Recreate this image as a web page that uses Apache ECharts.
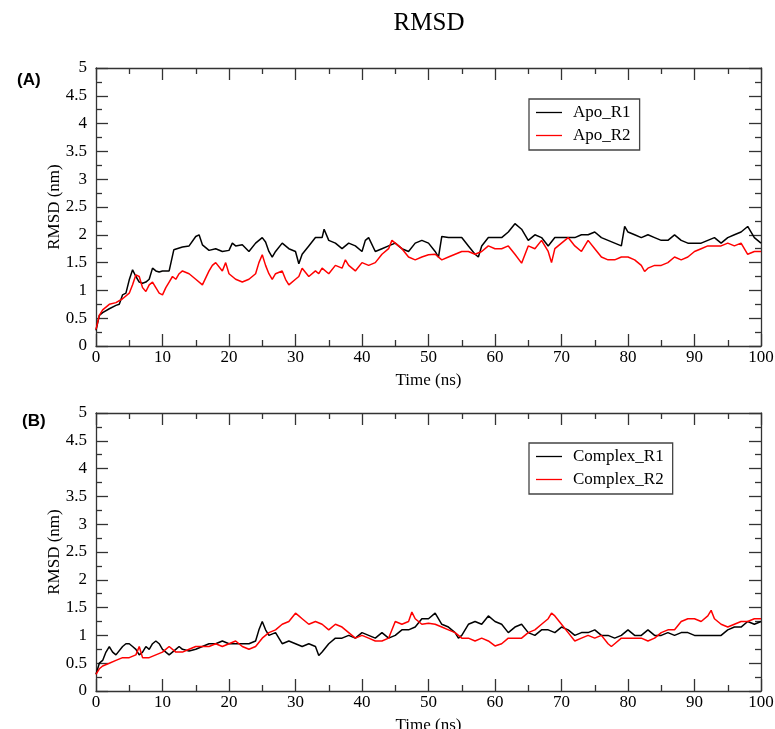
<!DOCTYPE html>
<html><head><meta charset="utf-8">
<script src="https://cdn.jsdelivr.net/npm/echarts@6/dist/echarts.min.js"></script>
<style>html,body{margin:0;padding:0;background:#fff}#c{width:775px;height:729px}</style>
</head><body><div id="c"></div>
<script>
const titleText = 'RMSD';
const panelLabels = ['(A)', '(B)'];
const xTicks = [0,10,20,30,40,50,60,70,80,90,100];
const yTicks = [0,0.5,1,1.5,2,2.5,3,3.5,4,4.5,5];
const seriesNames = ['Apo_R1','Apo_R2','Complex_R1','Complex_R2'];

const apoR1 = [[0,0.28],[0.5,0.55],[1,0.6],[2,0.67],[3,0.73],[3.5,0.75],[4,0.92],[4.5,0.95],[5,1.19],[5.5,1.37],[6,1.25],[6.5,1.15],[7,1.13],[7.5,1.15],[8,1.2],[8.5,1.4],[9,1.35],[9.5,1.33],[10,1.35],[11,1.35],[11.3,1.38],[11.7,1.73],[12,1.7],[13,1.78],[14,1.8],[15,1.97],[15.5,2.0],[16,1.82],[17,1.72],[18,1.75],[19,1.7],[20,1.72],[20.5,1.85],[21,1.8],[22,1.82],[23,1.7],[24,1.85],[25,1.95],[25.5,1.87],[26,1.7],[26.5,1.6],[27,1.7],[28,1.85],[29,1.75],[30,1.7],[30.5,1.48],[31,1.65],[32,1.8],[33,1.95],[34,1.95],[34.3,2.1],[35,1.9],[36,1.85],[37,1.75],[38,1.85],[39,1.8],[40,1.7],[40.5,1.9],[41,1.95],[42,1.7],[43,1.75],[44,1.8],[45,1.85],[46,1.75],[47,1.7],[48,1.85],[49,1.9],[50,1.85],[51,1.7],[51.5,1.6],[52,1.97],[53,1.95],[54,1.95],[55,1.95],[56,1.8],[57,1.65],[57.5,1.6],[58,1.8],[59,1.95],[60,1.95],[61,1.95],[62,2.05],[63,2.2],[64,2.1],[65,1.9],[66,2.0],[67,1.95],[68,1.8],[69,1.95],[70,1.95],[71,1.95],[72,1.95],[73,2.0],[74,2.0],[75,2.05],[76,1.95],[77,1.9],[78,1.85],[79,1.8],[79.5,2.15],[80,2.05],[81,2.0],[82,1.95],[83,2.0],[84,1.95],[85,1.9],[86,1.9],[87,2.0],[88,1.9],[89,1.85],[90,1.85],[91,1.85],[92,1.9],[93,1.95],[94,1.85],[95,1.95],[96,2.0],[97,2.05],[98,2.15],[99,1.95],[100,1.85]];

const apoR2 = [[0,0.3],[0.5,0.55],[1,0.65],[2,0.75],[3,0.78],[4,0.85],[5,0.95],[5.5,1.1],[6,1.28],[6.5,1.25],[7,1.05],[7.5,0.98],[8,1.1],[8.5,1.15],[9,1.05],[9.5,0.95],[10,0.92],[10.5,1.05],[11,1.15],[11.5,1.25],[12,1.2],[12.5,1.3],[13,1.35],[14,1.3],[15,1.2],[16,1.1],[17,1.35],[17.5,1.45],[18,1.5],[19,1.35],[19.5,1.5],[20,1.3],[21,1.2],[22,1.15],[23,1.2],[24,1.3],[24.5,1.5],[25,1.64],[25.5,1.45],[26,1.3],[26.5,1.2],[27,1.3],[28,1.35],[28.5,1.2],[29,1.1],[30,1.2],[30.5,1.25],[31,1.4],[32,1.25],[33,1.35],[33.5,1.3],[34,1.4],[35,1.3],[36,1.45],[37,1.4],[37.5,1.55],[38,1.45],[39,1.35],[40,1.5],[41,1.45],[42,1.5],[43,1.65],[44,1.75],[44.5,1.9],[45,1.85],[46,1.75],[47,1.6],[48,1.55],[49,1.6],[50,1.64],[51,1.65],[52,1.55],[53,1.6],[54,1.65],[55,1.7],[56,1.7],[57,1.65],[58,1.7],[59,1.8],[60,1.75],[61,1.75],[62,1.8],[63,1.65],[64,1.49],[65,1.8],[66,1.75],[67,1.9],[68,1.7],[68.5,1.5],[69,1.75],[70,1.85],[71,1.95],[72,1.8],[73,1.7],[74,1.9],[75,1.75],[76,1.6],[77,1.55],[78,1.55],[79,1.6],[80,1.6],[81,1.55],[82,1.45],[82.5,1.34],[83,1.4],[84,1.45],[85,1.45],[86,1.5],[87,1.6],[88,1.55],[89,1.6],[90,1.7],[91,1.75],[92,1.8],[93,1.8],[94,1.8],[95,1.85],[96,1.8],[97,1.85],[98,1.65],[99,1.7],[100,1.7]];

const complexR1 = [[0,0.3],[0.5,0.5],[1,0.55],[1.5,0.7],[2,0.8],[2.5,0.7],[3,0.65],[4,0.8],[4.5,0.85],[5,0.85],[5.5,0.8],[6,0.75],[6.5,0.65],[7,0.7],[7.5,0.8],[8,0.75],[8.5,0.85],[9,0.9],[9.5,0.85],[10,0.75],[11,0.65],[12,0.75],[12.5,0.8],[13,0.75],[14,0.72],[15,0.75],[16,0.8],[17,0.85],[18,0.85],[19,0.9],[20,0.85],[21,0.85],[22,0.85],[23,0.85],[24,0.9],[24.5,1.1],[25,1.25],[25.5,1.1],[26,1.0],[27,1.05],[28,0.85],[29,0.9],[30,0.85],[31,0.8],[32,0.85],[33,0.8],[33.5,0.64],[34,0.7],[35,0.85],[36,0.95],[37,0.95],[38,1.0],[39,0.95],[40,1.05],[41,1.0],[42,0.95],[43,1.05],[44,0.95],[45,1.0],[46,1.1],[47,1.1],[48,1.15],[49,1.3],[50,1.3],[51,1.4],[52,1.2],[53,1.15],[54,1.05],[54.5,0.95],[55,1.0],[56,1.2],[57,1.25],[58,1.2],[59,1.35],[60,1.25],[61,1.2],[62,1.05],[63,1.15],[64,1.2],[65,1.05],[66,1.0],[67,1.1],[68,1.1],[69,1.05],[70,1.15],[71,1.1],[72,1.0],[73,1.05],[74,1.05],[75,1.1],[76,1.0],[77,1.0],[78,0.95],[79,1.0],[80,1.1],[81,1.0],[82,1.0],[83,1.1],[84,1.0],[85,1.0],[86,1.05],[87,1.0],[88,1.05],[89,1.05],[90,1.0],[91,1.0],[92,1.0],[93,1.0],[94,1.0],[95,1.1],[96,1.15],[97,1.15],[98,1.25],[99,1.2],[100,1.25]];

const complexR2 = [[0,0.3],[0.5,0.4],[1,0.45],[2,0.5],[3,0.55],[4,0.6],[5,0.6],[6,0.65],[6.5,0.8],[7,0.6],[8,0.6],[9,0.65],[10,0.7],[11,0.8],[12,0.7],[13,0.7],[14,0.75],[15,0.8],[16,0.8],[17,0.8],[18,0.85],[19,0.8],[20,0.85],[21,0.9],[22,0.8],[23,0.75],[24,0.8],[25,0.95],[26,1.05],[27,1.1],[28,1.2],[29,1.25],[30,1.4],[30.5,1.35],[31,1.3],[32,1.2],[33,1.25],[34,1.2],[35,1.1],[36,1.2],[37,1.15],[38,1.05],[39,0.95],[40,1.0],[41,0.95],[42,0.9],[43,0.9],[44,0.95],[45,1.25],[46,1.2],[47,1.25],[47.5,1.42],[48,1.3],[49,1.2],[50,1.22],[51,1.2],[52,1.15],[53,1.1],[54,1.05],[55,0.95],[56,0.95],[57,0.9],[58,0.95],[59,0.9],[60,0.81],[61,0.85],[62,0.95],[63,0.95],[64,0.95],[65,1.05],[66,1.1],[67,1.2],[68,1.3],[68.5,1.4],[69,1.35],[70,1.2],[71,1.05],[72,0.9],[73,0.95],[74,1.0],[75,0.95],[76,1.0],[77,0.85],[77.5,0.8],[78,0.85],[79,0.95],[80,0.95],[81,0.95],[82,0.95],[83,0.9],[84,0.95],[85,1.05],[86,1.1],[87,1.1],[88,1.25],[89,1.3],[90,1.3],[91,1.25],[92,1.35],[92.5,1.45],[93,1.3],[94,1.2],[95,1.15],[96,1.2],[97,1.25],[98,1.25],[99,1.3],[100,1.3]];

const serif = 'Liberation Serif';
const axisCol = '#333';
const chart = echarts.init(document.getElementById('c'), null, {renderer:'canvas'});

const grids = [
  {left: 96, right: 14, top: 68, height: 278, outerBoundsMode: 'none', containLabel: false},
  {left: 96, right: 14, top: 413, height: 278, outerBoundsMode: 'none', containLabel: false}
];

function xAx(gi, top) {
  return {
    type:'value', gridIndex: gi, position: top ? 'top' : 'bottom',
    min: xTicks[0], max: xTicks[xTicks.length-1], interval: xTicks[1]-xTicks[0],
    name: top ? '' : 'Time (ns)', nameLocation:'middle', nameGap: 26, nameMoveOverlap: false,
    nameTextStyle:{fontFamily: serif, fontSize: 17, color:'#000'},
    axisLine:{show:true, onZero:false, lineStyle:{color:axisCol, width:1.3}},
    axisTick:{show:true, inside:true, length:12, lineStyle:{color:axisCol, width:1.3}},
    minorTick:{show:true, splitNumber:2, length:6, lineStyle:{color:axisCol, width:1.3}},
    axisLabel:{show: !top, margin:3, fontFamily: serif, fontSize: 17, color:'#000'},
    splitLine:{show:false}
  };
}
function yAx(gi, right) {
  return {
    type:'value', gridIndex: gi, position: right ? 'right' : 'left',
    min: yTicks[0], max: yTicks[yTicks.length-1], interval: yTicks[1]-yTicks[0],
    name: right ? '' : 'RMSD (nm)', nameLocation:'middle', nameGap: 33, nameMoveOverlap: false,
    nameTextStyle:{fontFamily: serif, fontSize: 17, color:'#000'},
    axisLine:{show:true, onZero:false, lineStyle:{color:axisCol, width:1.3}},
    axisTick:{show:true, inside:true, length:12, lineStyle:{color:axisCol, width:1.3}},
    minorTick:{show:true, splitNumber:2, length:6, lineStyle:{color:axisCol, width:1.3}},
    axisLabel:{show: !right, margin:9, fontFamily: serif, fontSize: 17, color:'#000'},
    splitLine:{show:false}
  };
}

function ser(name, data, gi, color) {
  return {
    name, type:'line', data, xAxisIndex: gi*2, yAxisIndex: gi*2,
    showSymbol:false, symbol:'none', animation:false,
    lineStyle:{color, width:1.5}, itemStyle:{color}
  };
}

function legend(names, left, top) {
  return {
    data: names, orient:'vertical', left, top,
    icon:'rect', itemWidth:26, itemHeight:1.3, itemGap:6,
    borderColor:'#444', borderWidth:1.3, padding:[5,9,6,7],
    textStyle:{fontFamily: serif, fontSize:17, color:'#000', padding:[0,0,0,6], height:17, lineHeight:17},
    selectedMode:false
  };
}

chart.setOption({
  animation:false,
  backgroundColor:'#fff',
  title:[
    {text: titleText, left: 424, top: 6, textAlign:'center', textStyle:{fontFamily: serif, fontSize: 25, fontWeight:'normal', color:'#000'}},
    {text: panelLabels[0], left: 12, top: 67, textStyle:{fontFamily:'Liberation Sans', fontSize: 17, fontWeight:'bold', color:'#000'}},
    {text: panelLabels[1], left: 17, top: 408, textStyle:{fontFamily:'Liberation Sans', fontSize: 17, fontWeight:'bold', color:'#000'}}
  ],
  grid: grids,
  xAxis: [xAx(0,false), xAx(0,true), xAx(1,false), xAx(1,true)],
  yAxis: [yAx(0,false), yAx(0,true), yAx(1,false), yAx(1,true)],
  legend: [legend([seriesNames[0], seriesNames[1]], 529, 99), legend([seriesNames[2], seriesNames[3]], 529, 443)],
  series: [
    ser(seriesNames[0], apoR1, 0, '#000000'),
    ser(seriesNames[1], apoR2, 0, '#ff0000'),
    ser(seriesNames[2], complexR1, 1, '#000000'),
    ser(seriesNames[3], complexR2, 1, '#ff0000')
  ]
});
</script></body></html>
